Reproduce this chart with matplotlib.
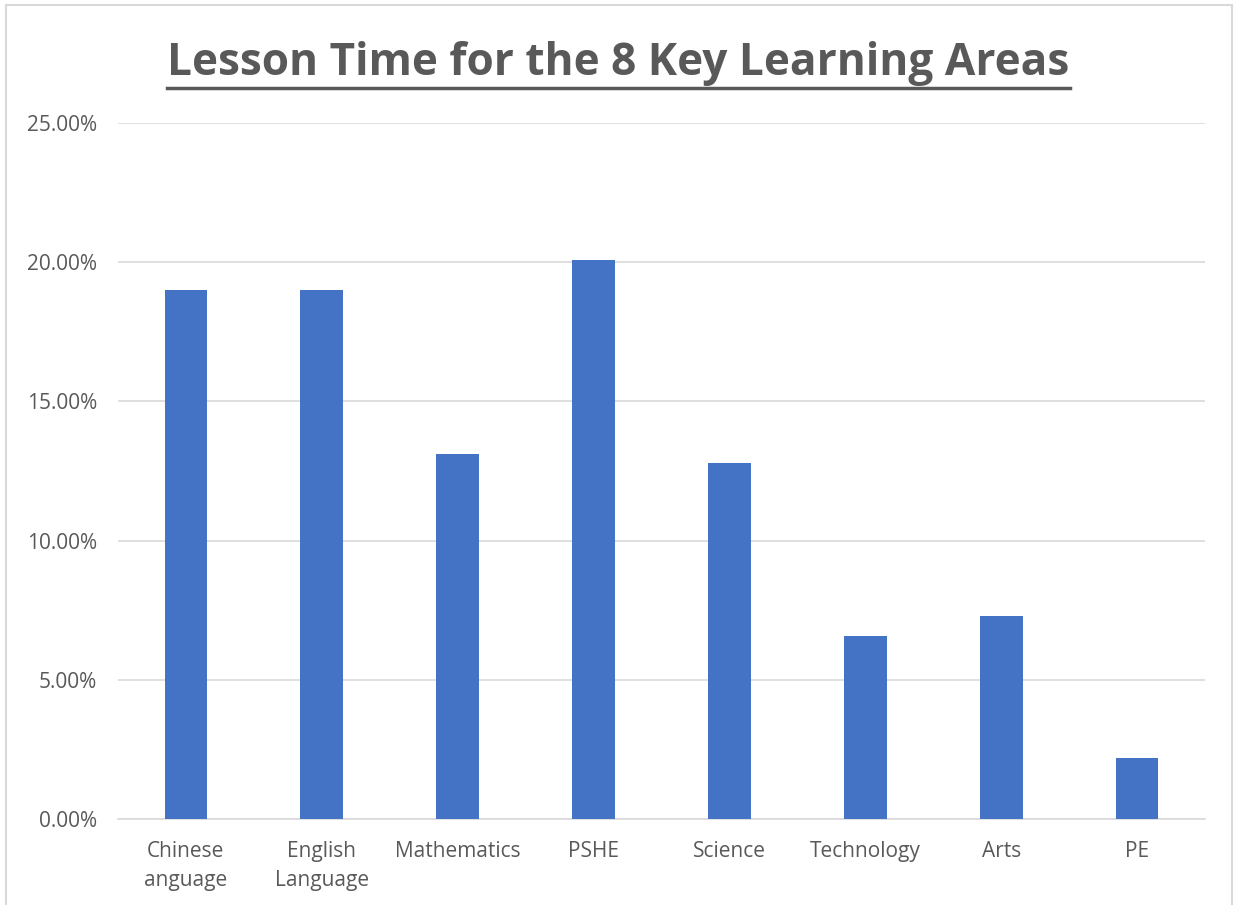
import matplotlib
matplotlib.use('Agg')
import matplotlib.pyplot as plt
import numpy as np
from matplotlib.ticker import PercentFormatter
from matplotlib.patches import Rectangle
from matplotlib.lines import Line2D

# Data
areas = ['Chinese\nanguage', 'English\nLanguage', 'Mathematics', 'PSHE',
         'Science', 'Technology', 'Arts', 'PE']
share = [0.190, 0.190, 0.1312, 0.2008, 0.1279, 0.0657, 0.0729, 0.0219]
y_ticks = [0.0, 0.05, 0.10, 0.15, 0.20, 0.25]

plt.rcParams['font.family'] = ['Open Sans', 'DejaVu Sans']
grey = '#595959'

fig = plt.figure(figsize=(12.37, 9.05), dpi=100)
ax = fig.add_axes([118/1237, 86/905, (1205-118)/1237, (819-123)/905])

x = np.arange(len(areas))
ax.bar(x, share, width=0.315, color='#4472C4', zorder=3)

ax.set_xlim(-0.5, len(areas) - 0.5)
ax.set_ylim(0, 0.25)
ax.set_yticks(y_ticks)
ax.yaxis.set_major_formatter(PercentFormatter(1.0, decimals=2))
ax.set_xticks(x)
ax.set_xticklabels(areas, linespacing=1.5)
ax.tick_params(axis='both', length=0, labelsize=15, colors=grey)
ax.tick_params(axis='y', pad=15)
ax.tick_params(axis='x', pad=16)
ax.grid(axis='y', color='#d9d9d9', linewidth=1.2, zorder=0)
for s in ['top', 'right', 'left']:
    ax.spines[s].set_visible(False)
ax.spines['bottom'].set_color('#d9d9d9')
ax.spines['bottom'].set_linewidth(1.2)

t = fig.text(0.5, 1 - 63/905, 'Lesson Time for the 8 Key Learning Areas',
             ha='center', va='center', fontsize=31.8, fontweight='bold', color=grey)

# underline the title
fig.canvas.draw()
bb = t.get_window_extent()
uy = 1 - 88/905
fig.add_artist(Line2D([bb.x0/1237, bb.x1/1237], [uy, uy], color=grey, lw=2.5,
                      transform=fig.transFigure))

# chart border
fig.add_artist(Rectangle((6/1237, -0.05), 1226/1237, 1.05 - 5/905,
                         transform=fig.transFigure, fill=False,
                         edgecolor='#d9d9d9', lw=1.5))

fig.savefig('out.png', dpi=100)
